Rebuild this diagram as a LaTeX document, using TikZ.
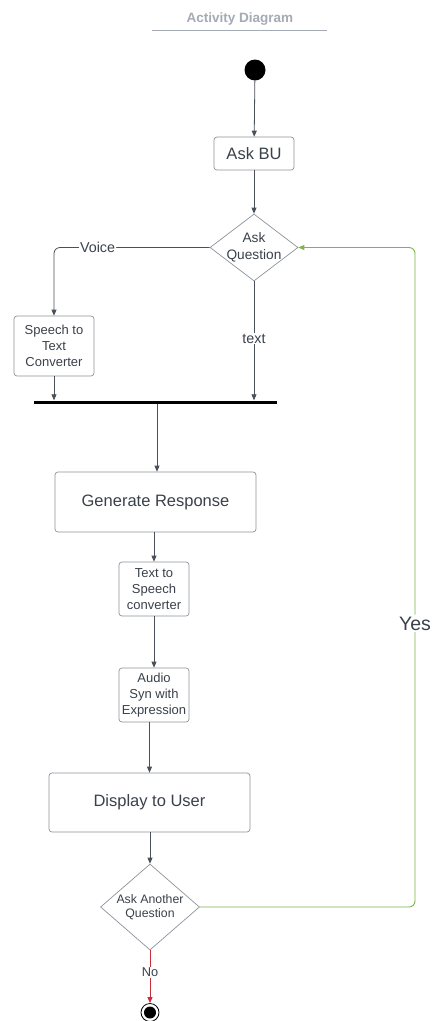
\documentclass[tikz,border=0pt]{standalone}
\usepackage{fontspec}
\setmainfont{Liberation Sans}
\usetikzlibrary{shapes.geometric,arrows.meta}
\definecolor{txt}{HTML}{3A414A}
\definecolor{edge}{HTML}{4A5059}
\definecolor{frame}{HTML}{8E939A}
\definecolor{titlec}{HTML}{A5ABB5}
\definecolor{yesc}{HTML}{7AB648}
\definecolor{noc}{HTML}{C92D39}
\tikzset{
  tip/.style={-{Triangle[length=6pt,width=5pt]}},
  flow/.style={draw=edge, line width=0.8pt, tip},
  box/.style={draw=frame, line width=0.7pt, rounded corners=3pt, align=center,
              text=txt, inner sep=0pt},
  decision/.style={diamond, draw=frame, line width=0.7pt, inner sep=0pt},
  small/.style={font=\fontsize{13}{16}\selectfont},
  big/.style={font=\fontsize{16.5}{20}\selectfont},
  edgelabel/.style={fill=white, text=txt, inner sep=1pt, font=\fontsize{14.3}{17}\selectfont},
}
\begin{document}
\begin{tikzpicture}[x=1pt,y=-1pt]
\useasboundingbox[fill=white] (0,0) rectangle (432,1021);

% title
\node[text=titlec, font=\fontsize{13.5}{16}\selectfont\bfseries] (title) at (240,19) {Activity Diagram};
\coordinate (ulA) at (152,30);
\coordinate (ulB) at (327,30);
\draw[titlec, line width=0.8pt] (ulA) -- (ulB);

% nodes
\node[circle, fill=black, minimum size=21pt, inner sep=0pt] (start) at (255,70) {};
\node[box, big, minimum width=80pt, minimum height=33pt] (askbu) at (254,153.5) {Ask BU};
\node[decision, minimum width=88pt, minimum height=67pt,
      label={[align=center, text=txt, font=\fontsize{13.7}{17}\selectfont]center:Ask\\Question}] (askq) at (254,247.5) {};
\node[box, small, minimum width=80pt, minimum height=60pt] (stt) at (54,346) {Speech to\\Text\\Converter};
\node[fill=black, minimum width=243pt, minimum height=3pt, inner sep=0pt] (bar) at (155.5,402) {};
\node[box, big, minimum width=201pt, minimum height=60pt] (gen) at (155.5,502) {Generate Response};
\node[box, small, minimum width=70pt, minimum height=54pt] (tts) at (154,589) {Text to\\Speech\\converter};
\node[box, small, minimum width=70pt, minimum height=54pt] (audio) at (154,695) {Audio\\Syn with\\Expression};
\node[box, big, minimum width=201pt, minimum height=59pt] (disp) at (149.5,802.5) {Display to User};
\node[decision, minimum width=99pt, minimum height=86pt,
      label={[align=center, text=txt, font=\fontsize{12.3}{14.5}\selectfont]center:Ask Another\\Question}] (another) at (150,907) {};
\node[circle, draw=black, line width=0.8pt, minimum size=18pt, inner sep=0pt,
      path picture={\fill[black] (path picture bounding box.center) circle (6pt);}] (stop) at (150,1012.5) {};

% connectors
\draw[flow] (start) -- (askbu);
\draw[flow] (askbu) -- (askq);
\draw[flow, rounded corners=6pt] (askq.west) -| node[edgelabel, pos=0.36] {Voice} (stt.north);
\draw[flow] (askq.south) -- node[edgelabel, pos=0.48] {text} (askq.south |- bar.north);
\draw[flow] (stt.south) -- (stt.south |- bar.north);
\draw[flow] (bar.south -| 157,0) -- (gen.north -| 157,0);
\draw[flow] (gen.south -| tts.north) -- (tts.north);
\draw[flow] (tts) -- (audio);
\draw[flow] (audio.south -| disp.north) -- (disp.north);
\draw[flow] (disp.south -| another.north) -- (another.north);
\draw[draw=yesc, line width=0.9pt, -{Triangle[length=6pt,width=5pt]}, rounded corners=6pt]
  (another.east) -- (415,907) |- node[pos=0.215, fill=white, text=txt, inner sep=2pt,
  font=\fontsize{19.5}{22}\selectfont] {Yes} (askq.east);
\draw[draw=noc, line width=0.9pt, -{Triangle[length=6pt,width=5pt]}]
  (another.south) -- node[fill=white, text=txt, inner sep=1pt, pos=0.42,
  font=\fontsize{12.8}{15}\selectfont] {No} (stop.north);
\end{tikzpicture}
\end{document}
